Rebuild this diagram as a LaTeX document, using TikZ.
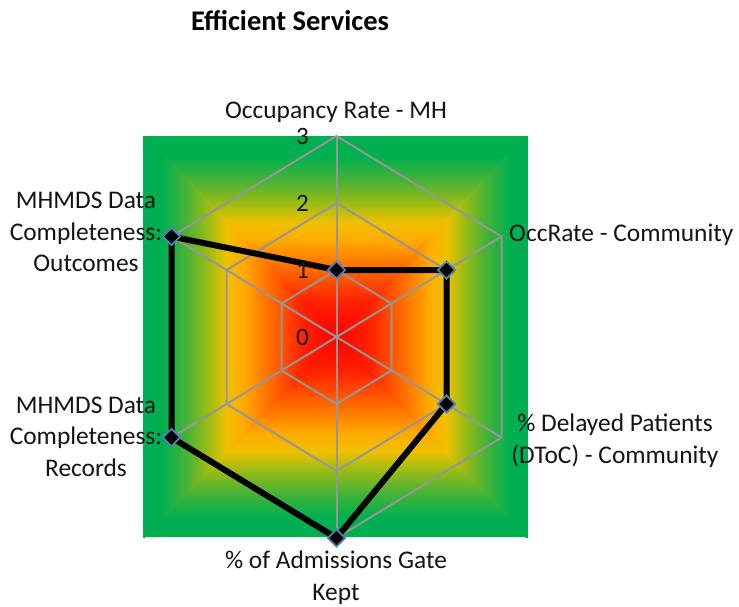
\documentclass[tikz,border=0pt]{standalone}
\usepackage{fontspec}
\setmainfont{Carlito}
\usetikzlibrary{shapes.geometric}

% colours of the background glow, from the centre out to the edge
\definecolor{gCore}{RGB}{255,0,0}
\definecolor{g18}{RGB}{255,35,0}
\definecolor{g36}{RGB}{255,115,0}
\definecolor{g48}{RGB}{255,170,0}
\definecolor{g57}{RGB}{240,192,0}
\definecolor{g66}{RGB}{160,188,20}
\definecolor{g78}{RGB}{70,178,55}
\definecolor{gEdge}{RGB}{0,176,80}
\definecolor{gridgray}{RGB}{150,150,150}
\definecolor{markerblue}{RGB}{79,129,189}
\definecolor{inkblack}{RGB}{20,20,20}

% four linear shadings; together they make a square "path" gradient
\pgfdeclareverticalshading{glowup}{100bp}{color(0bp)=(gCore); color(25bp)=(gCore); color(34bp)=(g18); color(43bp)=(g36); color(49bp)=(g48); color(53.5bp)=(g57); color(58bp)=(g66); color(64bp)=(g78); color(70bp)=(gEdge); color(100bp)=(gEdge)}
\pgfdeclareverticalshading{glowdown}{100bp}{color(0bp)=(gEdge); color(30bp)=(gEdge); color(36bp)=(g78); color(42bp)=(g66); color(46.5bp)=(g57); color(51bp)=(g48); color(57bp)=(g36); color(66bp)=(g18); color(75bp)=(gCore); color(100bp)=(gCore)}
\pgfdeclarehorizontalshading{glowright}{100bp}{color(0bp)=(gCore); color(25bp)=(gCore); color(34bp)=(g18); color(43bp)=(g36); color(49bp)=(g48); color(53.5bp)=(g57); color(58bp)=(g66); color(64bp)=(g78); color(70bp)=(gEdge); color(100bp)=(gEdge)}
\pgfdeclarehorizontalshading{glowleft}{100bp}{color(0bp)=(gEdge); color(30bp)=(gEdge); color(36bp)=(g78); color(42bp)=(g66); color(46.5bp)=(g57); color(51bp)=(g48); color(57bp)=(g36); color(66bp)=(g18); color(75bp)=(gCore); color(100bp)=(gCore)}

\begin{document}
\begin{tikzpicture}[x=1pt,y=-1pt,
  gridline/.style={draw=gridgray, line width=2pt},
  dataline/.style={draw=black, line width=6pt, line join=miter},
  datamark/.style={diamond, fill=black, draw=markerblue, line width=1.8pt,
    minimum width=18pt, minimum height=18pt, inner sep=0pt},
  lbl/.style={font=\fontsize{25.4}{31.5}\selectfont, inner sep=0pt, text=inkblack, align=center},
  ticklbl/.style={font=\fontsize{25}{30}\selectfont, inner sep=0pt, text=inkblack, anchor=base east},
  titlelbl/.style={font=\fontsize{28.5}{34}\selectfont\bfseries, inner sep=0pt, text=black, anchor=base}]
\useasboundingbox (0,0) rectangle (739,606);
\fill[white] (0,0) rectangle (739,606);

% square plot area with the glow from red centre to green edges
\begin{scope}
  \clip (140,136) -- (531,136) -- (336.5,340) -- cycle;
  \shade[shading=glowup] (143,136) rectangle (528,337);
\end{scope}
\begin{scope}
  \clip (140,537) -- (531,537) -- (336.5,334) -- cycle;
  \shade[shading=glowdown] (143,337) rectangle (528,537);
\end{scope}
\begin{scope}
  \clip (143,133) -- (143,540) -- (339.5,337) -- cycle;
  \shade[shading=glowleft] (143,136) rectangle (336.5,537);
\end{scope}
\begin{scope}
  \clip (528,133) -- (528,540) -- (333.5,337) -- cycle;
  \shade[shading=glowright] (336.5,136) rectangle (528,537);
\end{scope}

\begin{scope}[shift={(336.5,337)}]
  \coordinate (C) at (0,0);
  % axis ends at value 3
  \coordinate (a1) at (0,-201);
  \coordinate (a2) at (165,-100.5);
  \coordinate (a3) at (165,100.5);
  \coordinate (a4) at (0,201);
  \coordinate (a5) at (-165,100.5);
  \coordinate (a6) at (-165,-100.5);
  % rings at 1, 2 and 3
  \foreach \r in {1,2,3}
    \draw[gridline] (0,-67*\r) -- (55*\r,-33.5*\r) -- (55*\r,33.5*\r) -- (0,67*\r)
      -- (-55*\r,33.5*\r) -- (-55*\r,-33.5*\r) -- cycle;
  \foreach \k in {1,...,6}
    \draw[gridline] (C) -- (a\k);

  % data values: 1, 2, 2, 3, 3, 3
  \coordinate (d1) at (0,-67);
  \coordinate (d2) at (110,-67);
  \coordinate (d3) at (110,67);
  \coordinate (d4) at (0,201);
  \coordinate (d5) at (-165,100.5);
  \coordinate (d6) at (-165,-100.5);
  \draw[dataline] (d1) -- (d2) -- (d3) -- (d4) -- (d5) -- (d6) -- cycle;
  \foreach \k in {1,...,6}
    \node[datamark] (m\k) at (d\k) {};
\end{scope}

% scale numbers
\node[ticklbl] (t3) at (309,144) {3};
\node[ticklbl] (t2) at (309,211) {2};
\node[ticklbl] (t1) at (309,278) {1};
\node[ticklbl] (t0) at (309,345) {0};

% title and category labels (base anchor = baseline of the last line)
\node[titlelbl] (title) at (290,30) {Efficient Services};
\node[lbl, anchor=base] (l1) at (336,118) {Occupancy Rate - MH};
\node[lbl, anchor=base west] (l2) at (509,241.7) {OccRate - Community};
\node[lbl, anchor=base] (l3) at (615,463.3) {\% Delayed Patients\\(DToC) - Community};
\node[lbl, anchor=base] (l4) at (336,600) {\% of Admissions Gate\\Kept};
\node[lbl, anchor=base] (l5) at (86,476) {MHMDS Data\\Completeness:\\Records};
\node[lbl, anchor=base] (l6) at (86,271.7) {MHMDS Data\\Completeness:\\Outcomes};
\end{tikzpicture}
\end{document}
